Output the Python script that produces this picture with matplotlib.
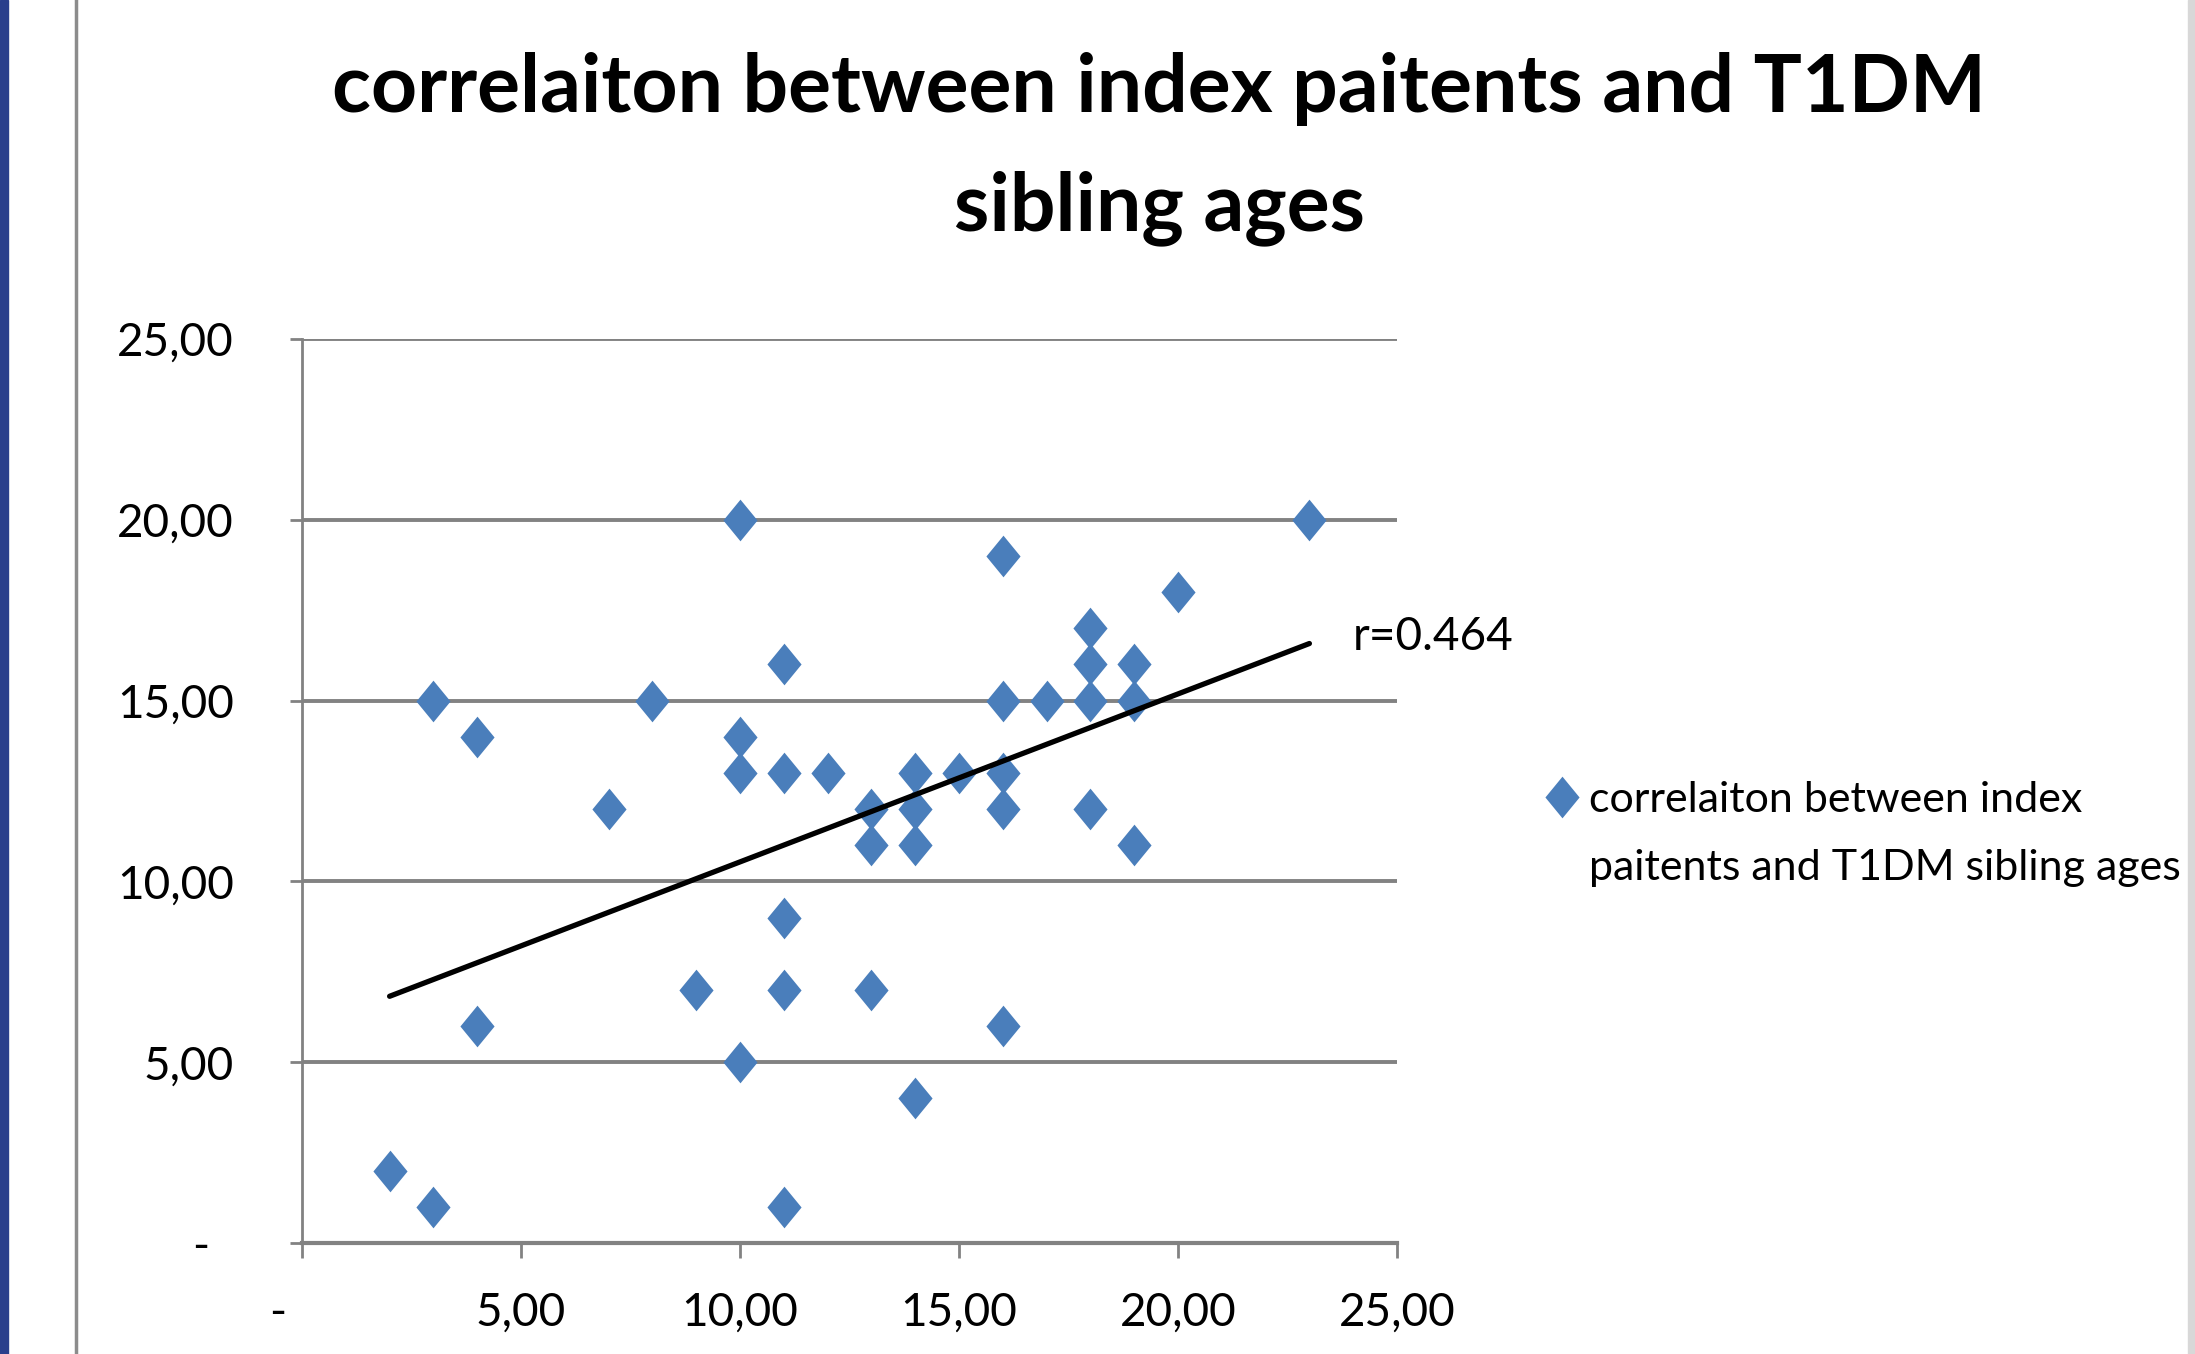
import numpy as np
import matplotlib
matplotlib.use('Agg')
import matplotlib.pyplot as plt
from matplotlib.path import Path
from matplotlib.patches import Rectangle
from matplotlib.lines import Line2D

plt.rcParams['font.family'] = ['Lato', 'DejaVu Sans']

# index patient age vs T1DM sibling age
index_age = [2, 3, 3, 4, 4, 7, 8, 9, 10, 10, 10, 10, 11, 11, 11, 11, 11, 12,
             13, 13, 13, 14, 14, 14, 14, 15, 16, 16, 16, 16, 16, 17, 18, 18,
             18, 18, 19, 19, 19, 20, 23]
sibling_age = [2, 1, 15, 14, 6, 12, 15, 7, 20, 14, 13, 5, 16, 13, 9, 7, 1, 13,
               12, 11, 7, 13, 12, 11, 4, 13, 19, 15, 13, 12, 6, 15, 17, 16,
               15, 12, 16, 15, 11, 18, 20]
ticks = [0, 5, 10, 15, 20, 25]
title = 'correlaiton between index paitents and T1DM\nsibling ages'
series_label = 'correlaiton between index\npaitents and T1DM sibling ages'
r_label = 'r=0.464'

blue = '#4a7ebb'
grid = '#828282'

def fmt(v, zero):
    return zero if v == 0 else ('%.2f' % v).replace('.', ',')

diamond = Path([(0, 1), (0.82, 0), (0, -1), (-0.82, 0), (0, 1)],
               [Path.MOVETO, Path.LINETO, Path.LINETO, Path.LINETO, Path.CLOSEPOLY])

fig = plt.figure(figsize=(21.95, 13.54), dpi=100)
ax = fig.add_axes([302 / 2195, 1 - 1243 / 1354, 1095 / 2195, 904 / 1354])

ax.plot(index_age, sibling_age, linestyle='none', marker=diamond,
        markersize=30, color=blue, markeredgewidth=0, zorder=3)

# linear trend line
k, b = np.polyfit(index_age, sibling_age, 1)
xs = np.array([min(index_age), max(index_age)])
ax.plot(xs, k * xs + b, color='black', lw=3.8, zorder=4, solid_capstyle='round')
ax.text(24.0, 16.75, r_label, fontsize=33, va='center', ha='left')

ax.set_xlim(0, 25)
ax.set_ylim(0, 25)
ax.set_xticks(ticks)
ax.set_yticks(ticks)
ax.set_xticklabels([fmt(t, '-    ') for t in ticks])
ax.set_yticklabels([fmt(t, '-  ') for t in ticks])
ax.tick_params(axis='y', length=9, width=2, color=grid, pad=40, labelsize=33)
ax.tick_params(axis='x', length=11, width=2, color=grid, pad=24, labelsize=33)
ax.yaxis.grid(True, color=grid, lw=2.8)
ax.set_axisbelow(True)
for s in ['top', 'right']:
    ax.spines[s].set_visible(False)
ax.spines['left'].set_color(grid)
ax.spines['left'].set_linewidth(2)
ax.spines['bottom'].set_color(grid)
ax.spines['bottom'].set_linewidth(3)

fig.text(1159 / 2195, 1 - 149 / 1354, title, fontsize=58, fontweight='bold',
         ha='center', va='center', linespacing=1.75)

# legend entry
fig.lines.append(Line2D([1562 / 2195], [1 - 797 / 1354], transform=fig.transFigure,
                        marker=diamond, markersize=30, color=blue, linestyle='none',
                        markeredgewidth=0))
fig.text(1589 / 2195, 1 - 834 / 1354, series_label, fontsize=31, ha='left',
         va='center', linespacing=1.95)

# frame decorations from the screenshot
fig.patches.append(Rectangle((0, 0), 8 / 2195, 1, transform=fig.transFigure,
                             color='#2a3f8c', zorder=5))
fig.lines.append(Line2D([76 / 2195] * 2, [0, 1], transform=fig.transFigure,
                        color='#8c8c8c', lw=2.5))
fig.patches.append(Rectangle((2188 / 2195, 0), 7 / 2195, 1, transform=fig.transFigure,
                             color='#d8d8d8', zorder=5))

fig.savefig('out.png', dpi=100)
